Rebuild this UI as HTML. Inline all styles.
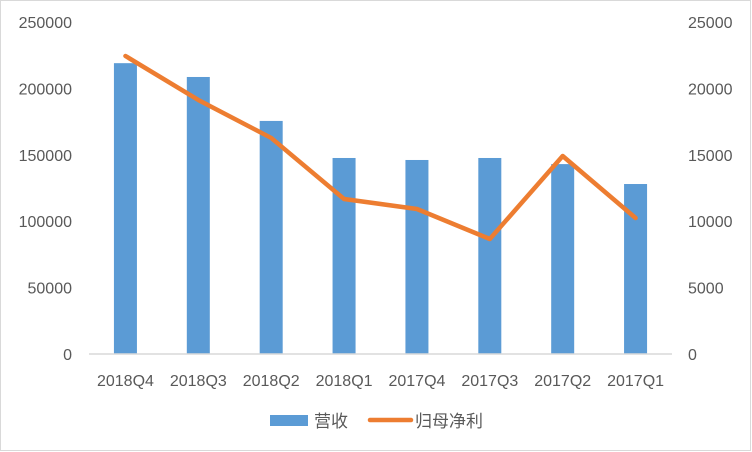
<!DOCTYPE html>
<html><head><meta charset="utf-8"><style>
body{margin:0;background:#fff;}
svg{display:block;font-family:"Liberation Sans","Noto Sans CJK SC",sans-serif;}
</style></head><body>
<svg id="c" width="752" height="452">
<rect x="0.5" y="0.5" width="750" height="450" fill="#fff" stroke="#d9d9d9"/>
<g id="g"></g>
</svg>
<script>
const categories=["2018Q4","2018Q3","2018Q2","2018Q1","2017Q4","2017Q3","2017Q2","2017Q1"];
const revenue=[219000,208600,175500,147600,146100,147600,143000,128000];
const profit=[22440,19130,16270,11670,10920,8660,14910,10240];
const leftTicks=[0,50000,100000,150000,200000,250000];
const rightTicks=[0,5000,10000,15000,20000,25000];
const NS="http://www.w3.org/2000/svg";
const g=document.getElementById('g');
const x0=89,x1=672,yTop=22,yBot=354;
const bw=(x1-x0)/categories.length;
const xC=i=>x0+bw*(i+0.5);
const yL=v=>yBot-(v/250000)*(yBot-yTop);
const yR=v=>yBot-(v/25000)*(yBot-yTop);
function el(t,a,txt){const e=document.createElementNS(NS,t);for(const k in a)e.setAttribute(k,a[k]);if(txt!==undefined)e.textContent=txt;g.appendChild(e);return e;}
leftTicks.forEach(v=>{
 const e=el('text',{x:72,y:yL(v)+6,'text-anchor':'end','font-size':16,fill:'#595959'},String(v));
 
 
});
rightTicks.forEach(v=>{
 const e=el('text',{x:688,y:yR(v)+6,'text-anchor':'start','font-size':16,fill:'#595959'},String(v));
 
 
});
revenue.forEach((v,i)=>{
 const r=el('rect',{x:xC(i)-11.5,y:yL(v),width:23,height:yBot-yL(v),fill:'#5b9bd5'});
 
 
});
const ax=el('line',{x1:x0,x2:x1,y1:yBot,y2:yBot,stroke:'#d9d9d9','stroke-width':1.5});


categories.forEach((c,i)=>{
 const t=el('text',{x:xC(i),y:386,'text-anchor':'middle','font-size':16,fill:'#595959'},c);
 
 
});
const pl=el('polyline',{points:profit.map((v,i)=>xC(i)+','+yR(v)).join(' '),fill:'none',stroke:'#ed7d31','stroke-width':4.5,'stroke-linejoin':'round','stroke-linecap':'round'});


const l1=el('rect',{x:270,y:415,width:38,height:11,fill:'#5b9bd5'});


const t1=el('text',{x:314,y:427,'font-size':17,fill:'#595959'},'营收');


const l2=el('line',{x1:370,x2:411,y1:420,y2:420,stroke:'#ed7d31','stroke-width':4.5,'stroke-linecap':'round'});


const t2=el('text',{x:415,y:427,'font-size':17,fill:'#595959'},'归母净利');


</script>
</body></html>
